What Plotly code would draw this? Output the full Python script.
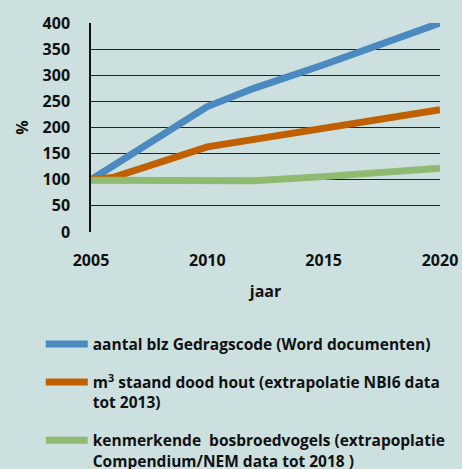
import plotly.graph_objects as go

years_blue = [2005, 2010, 2012, 2015, 2020]
vals_blue = [100, 240, 275, 320, 400]
years_orange = [2005, 2006, 2010, 2012, 2015, 2020]
vals_orange = [100, 105, 163, 177, 197, 234]
years_green = [2005, 2010, 2012, 2015, 2020]
vals_green = [99, 97, 98, 106, 122]

names = [
    "aantal blz Gedragscode (Word documenten)",
    "m<sup>3</sup> staand dood hout (extrapolatie NBI6 data<br>tot 2013)",
    "kenmerkende  bosbroedvogels (extrapoplatie<br>Compendium/NEM data tot 2018 )",
]
y_ticks = [0, 50, 100, 150, 200, 250, 300, 350, 400]
x_ticks = [2005, 2010, 2015, 2020]

bg = "#cce0e0"
font_family = "'Open Sans', Lato, sans-serif"

fig = go.Figure()
fig.add_trace(go.Scatter(x=years_blue, y=vals_blue, mode="lines", name=names[0],
                         line=dict(color="#4a8ac0", width=7), legendgroup="a"))
fig.add_trace(go.Scatter(x=years_orange, y=vals_orange, mode="lines", name=names[1],
                         line=dict(color="#c06000", width=7), legendgroup="b"))
fig.add_trace(go.Scatter(x=years_green, y=vals_green, mode="lines", name=names[2],
                         line=dict(color="#8fba70", width=7), legendgroup="c"))

fig.update_layout(
    width=462, height=469,
    paper_bgcolor=bg, plot_bgcolor=bg,
    margin=dict(l=91, r=22, t=23, b=237, autoexpand=False),
    font=dict(family=font_family, color="#111111"),
    showlegend=True,
    legend=dict(
        x=-0.144, xanchor="left", y=-0.456, yanchor="top",
        font=dict(size=15.5, family=font_family, color="#111111", weight="bold"),
        valign="top", tracegroupgap=15, itemwidth=42, bgcolor="rgba(0,0,0,0)",
    ),
    xaxis=dict(
        range=[2005, 2020], tickvals=x_ticks, showgrid=False, zeroline=False,
        showline=False, ticks="outside", ticklen=14, tickcolor="rgba(0,0,0,0)",
        tickfont=dict(size=16, weight="bold"),
        title=dict(text="jaar", font=dict(size=16, weight="bold"), standoff=15),
    ),
    yaxis=dict(
        range=[0, 400], tickvals=y_ticks, showgrid=True, gridcolor="#222222",
        gridwidth=1, zeroline=False, showline=True, linecolor="#111111", linewidth=1.5,
        ticks="outside", ticklen=16, tickcolor="rgba(0,0,0,0)",
        tickfont=dict(size=16, weight="bold"),
        title=dict(text="%", font=dict(size=16, weight="bold"), standoff=10),
    ),
)
fig.update_traces(cliponaxis=False)
fig.write_html(
    "out.html",
    config={"displayModeBar": False},
    post_script="document.body.style.margin='0';document.body.style.background='%s';" % bg,
)
